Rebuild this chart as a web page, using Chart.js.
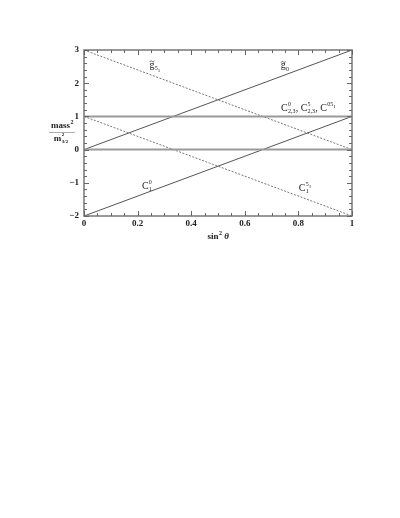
<!DOCTYPE html>
<html lang="en">
<head>
  <meta charset="UTF-8" />
  <script src="https://cdn.jsdelivr.net/npm/chart.js"></script>
  <title>mass² vs sin² θ</title>
  <style>
    html, body { margin: 0; padding: 0; background: #fff; }
    #wrap { width: 400px; height: 518px; position: relative; }
  </style>
</head>
<body>
  <div id="wrap"><canvas id="massChart" width="400" height="518"></canvas></div>
  <script>
    // sin^2 theta at the two ends of each straight line
    const xValues = [0, 1];
    const gTilde0 = [0, 3];
    const c1Zero = [-2, 1];
    const gTilde51 = [3, 0];
    const c1Five = [1, -2];
    const c23Level = [1, 1];
    const zeroLevel = [0, 0];

    const xTicks = [0, 0.2, 0.4, 0.6, 0.8, 1];
    const yTicks = [-2, -1, 0, 1, 2, 3];

    const SERIF = '"Liberation Serif", "DejaVu Serif", serif';
    const INK = '#222';

    function pts(ys) {
      return xValues.map((x, i) => ({ x: x, y: ys[i] }));
    }

    // line labels, placed in data coordinates
    const lineLabels = [
      { x: 0.265, y: 2.57, terms: [{ base: 'g', tilde: true, sub: '5', subSub: '1' }] },
      { x: 0.75, y: 2.55, terms: [{ base: 'g', tilde: true, sub: '0' }] },
      { x: 0.735, y: 1.27, align: 'left', terms: [
        { base: 'C', sup: '0', sub: '2,3' }, { text: ', ' },
        { base: 'C', sup: '5', sub: '2,3' }, { text: ', ' },
        { base: 'C', sup: '05', supSub: '1' }
      ] },
      { x: 0.235, y: -1.07, terms: [{ base: 'C', sup: '0', sub: '1' }] },
      { x: 0.825, y: -1.13, terms: [{ base: 'C', sup: '5', supSub: '1', sub: '1' }] }
    ];

    function termWidth(ctx, t) {
      if (t.text) { ctx.font = '10px ' + SERIF; return ctx.measureText(t.text).width; }
      ctx.font = '10px ' + SERIF;
      let w = ctx.measureText(t.base).width;
      ctx.font = '6px ' + SERIF;
      let supW = t.sup ? ctx.measureText(t.sup).width : 0;
      if (t.supSub) { ctx.font = '5px ' + SERIF; supW += ctx.measureText(t.supSub).width; }
      ctx.font = '6px ' + SERIF;
      let subW = t.sub ? ctx.measureText(t.sub).width : 0;
      if (t.subSub) { ctx.font = '5px ' + SERIF; subW += ctx.measureText(t.subSub).width; }
      return w + Math.max(supW, subW) + 0.5;
    }

    function drawTerm(ctx, x, y, t) {
      ctx.textAlign = 'left';
      ctx.textBaseline = 'alphabetic';
      if (t.text) {
        ctx.font = '10px ' + SERIF;
        ctx.fillText(t.text, x, y);
        return;
      }
      ctx.font = '10px ' + SERIF;
      ctx.fillText(t.base, x, y);
      const w = ctx.measureText(t.base).width;
      if (t.tilde) {
        // small tilde over the letter
        const mx = x + w / 2, my = y - 6.5;
        ctx.save();
        ctx.strokeStyle = INK;
        ctx.lineWidth = 0.7;
        ctx.beginPath();
        ctx.moveTo(mx - 2.2, my + 0.6);
        ctx.bezierCurveTo(mx - 1.2, my - 1, mx - 0.4, my - 0.6, mx, my);
        ctx.bezierCurveTo(mx + 0.4, my + 0.6, mx + 1.2, my + 1, mx + 2.2, my - 0.6);
        ctx.stroke();
        ctx.restore();
      }
      const sx = x + w + 0.3;
      if (t.sup) {
        ctx.font = '6px ' + SERIF;
        ctx.fillText(t.sup, sx, y - 5);
        if (t.supSub) {
          const sw = ctx.measureText(t.sup).width;
          ctx.font = '5px ' + SERIF;
          ctx.fillText(t.supSub, sx + sw, y - 3);
        }
      }
      if (t.sub) {
        ctx.font = '6px ' + SERIF;
        ctx.fillText(t.sub, sx, y + 2.5);
        if (t.subSub) {
          const sw = ctx.measureText(t.sub).width;
          ctx.font = '5px ' + SERIF;
          ctx.fillText(t.subSub, sx + sw, y + 4);
        }
      }
    }

    const framePlugin = {
      id: 'frame',
      afterDraw(chart) {
        const ctx = chart.ctx;
        const xs = chart.scales.x, ys = chart.scales.y;
        const a = chart.chartArea;
        ctx.save();

        // frame
        ctx.strokeStyle = '#777';
        ctx.lineWidth = 1.5;
        ctx.strokeRect(a.left, a.top, a.right - a.left, a.bottom - a.top);

        // inward ticks on all four sides
        ctx.lineWidth = 1;
        ctx.strokeStyle = '#666';
        for (let i = 0; i <= 20; i++) {
          const v = i * 0.05;
          const px = Math.round(xs.getPixelForValue(v)) + 0.5;
          const len = (i % 4 === 0) ? 5 : 3;
          ctx.beginPath();
          ctx.moveTo(px, a.bottom); ctx.lineTo(px, a.bottom - len);
          ctx.moveTo(px, a.top); ctx.lineTo(px, a.top + len);
          ctx.stroke();
        }
        for (let i = 0; i <= 25; i++) {
          const v = -2 + i * 0.2;
          const py = Math.round(ys.getPixelForValue(v)) + 0.5;
          const len = (i % 5 === 0) ? 5 : 3;
          ctx.beginPath();
          ctx.moveTo(a.left, py); ctx.lineTo(a.left + len, py);
          ctx.moveTo(a.right, py); ctx.lineTo(a.right - len, py);
          ctx.stroke();
        }

        // line labels
        ctx.fillStyle = INK;
        lineLabels.forEach(l => {
          const total = l.terms.reduce((s, t) => s + termWidth(ctx, t), 0);
          let x = xs.getPixelForValue(l.x);
          if (l.align !== 'left') x -= total / 2;
          const y = ys.getPixelForValue(l.y) + 3.5;
          l.terms.forEach(t => {
            drawTerm(ctx, x, y, t);
            x += termWidth(ctx, t);
          });
        });

        // x axis title: sin^2 theta
        const cx = (a.left + a.right) / 2;
        ctx.textBaseline = 'alphabetic';
        ctx.textAlign = 'left';
        ctx.font = 'bold 9px ' + SERIF;
        const w1 = ctx.measureText('sin').width;
        ctx.font = 'bold 6px ' + SERIF;
        const w2 = ctx.measureText('2').width;
        ctx.font = 'italic bold 9px ' + SERIF;
        const w3 = ctx.measureText(' \u03b8').width;
        let tx = cx - (w1 + w2 + w3) / 2;
        const ty = a.bottom + 23;
        ctx.font = 'bold 9px ' + SERIF;
        ctx.fillText('sin', tx, ty);
        ctx.font = 'bold 6px ' + SERIF;
        ctx.fillText('2', tx + w1 + 0.5, ty - 4);
        ctx.font = 'italic bold 9px ' + SERIF;
        ctx.fillText(' \u03b8', tx + w1 + w2 + 0.5, ty);

        // y axis title: mass^2 / m^2_{3/2}
        const yc = ys.getPixelForValue(0.5);
        const fx = 62;
        ctx.font = 'bold 9px ' + SERIF;
        const mw = ctx.measureText('mass').width;
        ctx.fillText('mass', fx - (mw + 3) / 2, yc - 5);
        ctx.font = 'bold 6px ' + SERIF;
        ctx.fillText('2', fx - (mw + 3) / 2 + mw + 0.5, yc - 9);
        ctx.strokeStyle = '#999';
        ctx.lineWidth = 0.8;
        ctx.beginPath();
        ctx.moveTo(fx - 13, yc - 0.5); ctx.lineTo(fx + 13, yc - 0.5);
        ctx.stroke();
        ctx.font = 'bold 9px ' + SERIF;
        const m2 = ctx.measureText('m').width;
        const bx = fx - (m2 + 9) / 2;
        ctx.fillText('m', bx, yc + 8);
        ctx.font = 'bold 5px ' + SERIF;
        ctx.fillText('2', bx + m2 + 0.5, yc + 3);
        ctx.fillText('3/2', bx + m2 + 0.5, yc + 10);

        ctx.restore();
      }
    };

    const ctx = document.getElementById('massChart').getContext('2d');
    new Chart(ctx, {
      type: 'line',
      data: {
        datasets: [
          { label: 'zero', data: pts(zeroLevel), borderColor: '#9a9a9a', borderWidth: 2 },
          { label: 'C23', data: pts(c23Level), borderColor: '#9a9a9a', borderWidth: 2 },
          { label: 'gTilde0', data: pts(gTilde0), borderColor: '#555', borderWidth: 1 },
          { label: 'C1^0', data: pts(c1Zero), borderColor: '#555', borderWidth: 1 },
          { label: 'gTilde51', data: pts(gTilde51), borderColor: '#777', borderWidth: 1, borderDash: [2, 1.5] },
          { label: 'C1^51', data: pts(c1Five), borderColor: '#777', borderWidth: 1, borderDash: [2, 1.5] }
        ]
      },
      plugins: [framePlugin],
      options: {
        responsive: false,
        animation: false,
        devicePixelRatio: 1,
        layout: { padding: { top: 50, right: 48, bottom: 0, left: 0 } },
        elements: { point: { radius: 0 }, line: { tension: 0 } },
        plugins: {
          legend: { display: false },
          tooltip: { enabled: false }
        },
        scales: {
          x: {
            type: 'linear',
            min: 0,
            max: 1,
            afterBuildTicks: s => { s.ticks = xTicks.map(v => ({ value: v })); },
            afterFit: s => { s.height = 302; },
            ticks: {
              color: INK,
              padding: 2,
              maxRotation: 0,
              font: { family: SERIF, size: 9, weight: 'bold' },
              callback: v => String(Math.round(v * 10) / 10)
            },
            grid: { display: false, drawTicks: false },
            border: { display: false }
          },
          y: {
            type: 'linear',
            min: -2,
            max: 3,
            afterBuildTicks: s => { s.ticks = yTicks.map(v => ({ value: v })); },
            afterFit: s => { s.width = 84; },
            ticks: {
              color: INK,
              padding: 5,
              font: { family: SERIF, size: 9, weight: 'bold' },
              callback: v => (v < 0 ? '\u2212' + Math.abs(v) : String(v))
            },
            grid: { display: false, drawTicks: false },
            border: { display: false }
          }
        }
      }
    });
  </script>
</body>
</html>
